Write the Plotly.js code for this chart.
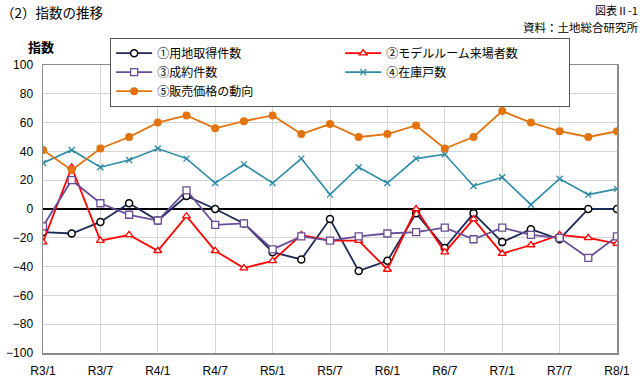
<!DOCTYPE html>
<html><head><meta charset="utf-8">
<script src="https://cdn.plot.ly/plotly-3.0.1.min.js"></script>
<style>html,body{margin:0;padding:0;background:#fff}#c{width:640px;height:389px}</style>
</head><body><div id="c"></div>
<script>
const periods = ['R3/1','R3/4','R3/7','R3/10','R4/1','R4/4','R4/7','R4/10','R5/1','R5/4','R5/7','R5/10','R6/1','R6/4','R6/7','R6/10','R7/1','R7/4','R7/7','R7/10','R8/1'];
const tickLabels = ['R3/1','R3/7','R4/1','R4/7','R5/1','R5/7','R6/1','R6/7','R7/1','R7/7','R8/1'];
const names = ['①用地取得件数','②モデルルーム来場者数','③成約件数','④在庫戸数','⑤販売価格の動向'];
const landAcq   = [-16,-17,-9,4,-8,9,0,-10,-30,-35,-7,-43,-36,-3,-27,-3,-23,-14,-21,0,0];
const visitors  = [-23,29,-22,-18,-29,-5,-29,-41,-36,-18,-22,-22,-42,0,-30,-7,-31,-25,-18,-20,-24];
const contracts = [-12,20,4,-4,-8,13,-11,-10,-28,-19,-22,-19,-17,-16,-13,-21,-13,-18,-20,-34,-19];
const inventory = [32,41,29,34,42,35,18,31,18,35,10,29,18,35,38,16,22,3,21,10,14];
const priceTrend= [41,27,42,50,60,65,56,61,65,52,59,50,52,58,42,50,68,60,54,50,54];

const F = '"Noto Sans CJK JP", "Noto Sans", sans-serif';
const traces = [
  {y: landAcq, name: names[0], line:{color:'#1b2a57', width:1.8},
   marker:{symbol:'circle', size:7, color:'#ffffff', line:{color:'#000000', width:1.5}}},
  {y: visitors, name: names[1], line:{color:'#ff0000', width:1.8},
   marker:{symbol:'triangle-up', size:7, color:'#ffffff', line:{color:'#ff0000', width:1.3}}},
  {y: contracts, name: names[2], line:{color:'#6a4c98', width:1.8},
   marker:{symbol:'square', size:7, color:'#ffffff', line:{color:'#6a4c98', width:1.3}}},
  {y: inventory, name: names[3], line:{color:'#2b8aa6', width:1.6},
   marker:{symbol:'x-thin', size:6, color:'#2b8aa6', line:{color:'#2b8aa6', width:1.3}}},
  {y: priceTrend, name: names[4], line:{color:'#e2730f', width:1.8},
   marker:{symbol:'circle', size:8, color:'#e2730f'}}
].map(t => Object.assign({x: periods, type:'scatter', mode:'lines+markers'}, t));

const layout = {
  width: 640, height: 389,
  margin: {l: 43, r: 23, t: 65, b: 36},
  paper_bgcolor: '#fff', plot_bgcolor: '#fff',
  showlegend: true,
  font: {family: F, color: '#000'},
  xaxis: {
    type: 'category', categoryorder: 'array', categoryarray: periods,
    range: [0, 20], tickvals: tickLabels, ticktext: tickLabels,
    showgrid: true, gridcolor: '#d4d4d4', gridwidth: 1,
    showline: true, linecolor: '#8c8c8c', linewidth: 1.5, mirror: true,
    ticks: '', zeroline: false, ticklabelstandoff: 6,
    tickfont: {family: '"Liberation Sans", Arial, sans-serif', size: 12, color: '#000'}
  },
  yaxis: {
    range: [-100, 100], dtick: 20, tick0: 0,
    showgrid: true, gridcolor: '#d4d4d4', gridwidth: 1,
    showline: true, linecolor: '#8c8c8c', linewidth: 1.5, mirror: true,
    zeroline: true, zerolinecolor: '#000', zerolinewidth: 2.5,
    ticks: '', ticklabelstandoff: 6,
    tickfont: {family: '"Liberation Sans", Arial, sans-serif', size: 12, color: '#000'}
  },
  legend: {
    orientation: 'h', x: 0.117, xanchor: 'left', y: 1.095, yanchor: 'top',
    bgcolor: '#fff', bordercolor: '#555', borderwidth: 1,
    entrywidth: 178, itemwidth: 36, tracegroupgap: 0,
    font: {family: F, size: 12, color: '#000'}
  },
  annotations: [
    {text:'（2）指数の推移', xref:'paper', yref:'paper', x:-0.0745, y:1.221, xanchor:'left', yanchor:'top',
     borderpad:0, showarrow:false, font:{family:F, size:13.5, color:'#000'}},
    {text:'図表Ⅱ-1', xref:'paper', yref:'paper', x:1.038, y:1.222, xanchor:'right', yanchor:'top',
     borderpad:0, showarrow:false, font:{family:F, size:11, color:'#000'}},
    {text:'資料：土地総合研究所', xref:'paper', yref:'paper', x:1.038, y:1.102, xanchor:'right', yanchor:'bottom',
     borderpad:0, showarrow:false, font:{family:F, size:11.5, color:'#000'}},
    {text:'<b>指数</b>', xref:'paper', yref:'paper', x:-0.003, y:1.065, xanchor:'center', yanchor:'middle',
     showarrow:false, font:{family:F, size:13, color:'#000'}}
  ]
};
Plotly.newPlot('c', traces, layout, {displayModeBar:false, staticPlot:true});
</script></body></html>
